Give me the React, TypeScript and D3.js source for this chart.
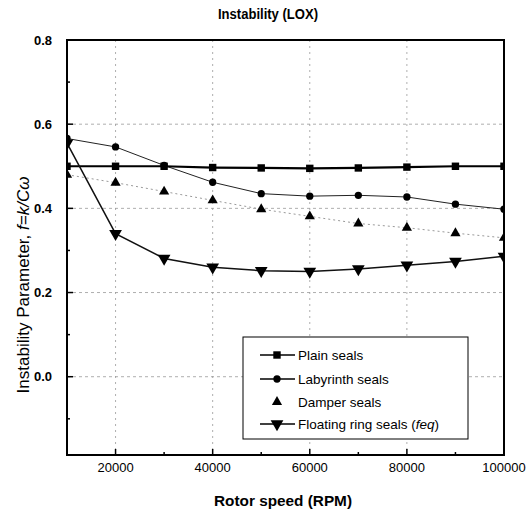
import React, { useEffect, useRef } from 'react'
import * as d3 from 'd3'

const speeds = [10000, 20000, 30000, 40000, 50000, 60000, 70000, 80000, 90000, 100000]
const plainSeals = [0.5, 0.5, 0.5, 0.497, 0.496, 0.495, 0.496, 0.498, 0.5, 0.5]
const labyrinthSeals = [0.566, 0.546, 0.502, 0.462, 0.435, 0.429, 0.431, 0.427, 0.41, 0.398]
const damperSeals = [0.48, 0.461, 0.44, 0.419, 0.398, 0.381, 0.364, 0.354, 0.341, 0.33]
const floatingSeals = [0.555, 0.34, 0.281, 0.26, 0.252, 0.25, 0.256, 0.265, 0.274, 0.286]

const xMajor = [20000, 40000, 60000, 80000, 100000]
const xMinor = [30000, 50000, 70000, 90000]
const yMajor = [0.0, 0.2, 0.4, 0.6, 0.8]
const yMinor = [-0.1, 0.1, 0.3, 0.5, 0.7]

const W = 532
const H = 518
const left = 67
const right = 504
const top = 40
const bottom = 455
const font = '"Liberation Sans", Arial, sans-serif'

const App = () => {
  const ref = useRef<SVGSVGElement>(null)

  useEffect(() => {
    document.body.style.margin = '0'
    if (!ref.current) return
    const svg = d3.select(ref.current)
    svg.selectAll('*').remove()

    const x = d3.scaleLinear().domain([10000, 100000]).range([left, right])
    const y = d3.scaleLinear().domain([-0.186, 0.8]).range([bottom, top])

    svg.append('rect').attr('width', W).attr('height', H).attr('fill', '#fff')

    svg.append('defs').append('clipPath').attr('id', 'plot')
      .append('rect').attr('x', left).attr('y', top).attr('width', right - left).attr('height', bottom - top)

    // grid
    const grid = svg.append('g').attr('stroke', '#999').attr('stroke-width', 0.8).attr('stroke-dasharray', '3,3')
    yMajor.forEach((v) => {
      grid.append('line').attr('x1', left).attr('x2', right).attr('y1', y(v)).attr('y2', y(v))
    })
    xMajor.slice(0, -1).forEach((v) => {
      grid.append('line').attr('x1', x(v)).attr('x2', x(v)).attr('y1', top).attr('y2', bottom)
        .attr('stroke-dasharray', '2,4')
    })

    // series
    const plot = svg.append('g').attr('clip-path', 'url(#plot)')
    const line = d3.line<[number, number]>().x((d) => x(d[0])).y((d) => y(d[1]))
    const pts = (vals: number[]) => speeds.map((s, i) => [s, vals[i]] as [number, number])

    const series = [
      { vals: damperSeals, stroke: '#9a9a9a', width: 1, dash: '2,3', sym: d3.symbolTriangle, size: 45, rot: 0 },
      { vals: labyrinthSeals, stroke: '#222', width: 1, dash: null, sym: d3.symbolCircle, size: 42, rot: 0 },
      { vals: plainSeals, stroke: '#000', width: 2.2, dash: null, sym: d3.symbolSquare, size: 55, rot: 0 },
      { vals: floatingSeals, stroke: '#111', width: 1.5, dash: null, sym: d3.symbolTriangle, size: 70, rot: 180 },
    ]

    series.forEach((s) => {
      plot.append('path')
        .attr('d', line(pts(s.vals)))
        .attr('fill', 'none')
        .attr('stroke', s.stroke)
        .attr('stroke-width', s.width)
        .attr('stroke-dasharray', s.dash)
      pts(s.vals).forEach((p) => {
        plot.append('path')
          .attr('d', d3.symbol().type(s.sym).size(s.size)())
          .attr('transform', `translate(${x(p[0])},${y(p[1])}) rotate(${s.rot})`)
          .attr('fill', '#000')
      })
    })

    // frame
    svg.append('rect')
      .attr('x', left).attr('y', top).attr('width', right - left).attr('height', bottom - top)
      .attr('fill', 'none').attr('stroke', '#000').attr('stroke-width', 2)

    // ticks
    const ticks = svg.append('g').attr('stroke', '#000').attr('stroke-width', 1.5)
    yMajor.forEach((v) => ticks.append('line').attr('x1', left).attr('x2', left + 6).attr('y1', y(v)).attr('y2', y(v)))
    yMinor.forEach((v) => ticks.append('line').attr('x1', left).attr('x2', left + 3).attr('y1', y(v)).attr('y2', y(v)))
    xMajor.forEach((v) => ticks.append('line').attr('x1', x(v)).attr('x2', x(v)).attr('y1', bottom).attr('y2', bottom - 6))
    xMinor.forEach((v) => ticks.append('line').attr('x1', x(v)).attr('x2', x(v)).attr('y1', bottom).attr('y2', bottom - 3))

    // tick labels
    yMajor.forEach((v) => {
      svg.append('text')
        .attr('x', left - 15).attr('y', y(v)).attr('dy', '0.35em')
        .attr('text-anchor', 'end')
        .style('font-family', font).style('font-size', '13px').style('font-weight', 'bold')
        .text(d3.format('.1f')(v))
    })
    xMajor.forEach((v) => {
      svg.append('text')
        .attr('x', x(v)).attr('y', 472)
        .attr('text-anchor', 'middle')
        .style('font-family', font).style('font-size', '13px')
        .text(String(v))
    })

    // titles
    svg.append('text')
      .attr('x', 268).attr('y', 19).attr('text-anchor', 'middle')
      .attr('textLength', 100).attr('lengthAdjust', 'spacingAndGlyphs')
      .style('font-family', font).style('font-size', '14px').style('font-weight', 'bold')
      .text('Instability (LOX)')

    svg.append('text')
      .attr('x', 283).attr('y', 506).attr('text-anchor', 'middle')
      .attr('textLength', 138).attr('lengthAdjust', 'spacingAndGlyphs')
      .style('font-family', font).style('font-size', '15px').style('font-weight', 'bold')
      .text('Rotor speed (RPM)')

    const yt = svg.append('text')
      .attr('transform', 'translate(29,285) rotate(-90)')
      .attr('text-anchor', 'middle')
      .style('font-family', font).style('font-size', '17px')
    yt.append('tspan').text('Instability Parameter, ')
    yt.append('tspan').style('font-style', 'italic').text('f=k/Cω')

    // legend
    const lg = svg.append('g')
    lg.append('rect').attr('x', 243).attr('y', 337).attr('width', 225).attr('height', 102)
      .attr('fill', '#fff').attr('stroke', '#000').attr('stroke-width', 1)
    const names = ['Plain seals', 'Labyrinth seals', 'Damper seals', 'Floating ring seals ']
    const ly = [355, 379, 402, 424]
    const legendSeries = [series[2], series[1], series[0], series[3]]
    legendSeries.forEach((s, i) => {
      if (s !== series[0]) {
        lg.append('line').attr('x1', 260).attr('x2', 295).attr('y1', ly[i]).attr('y2', ly[i])
          .attr('stroke', '#000').attr('stroke-width', 1.3)
      }
      lg.append('path')
        .attr('d', d3.symbol().type(s.sym).size(s.size)())
        .attr('transform', `translate(277,${ly[i]}) rotate(${s.rot})`)
        .attr('fill', '#000')
      const t = lg.append('text')
        .attr('x', 298).attr('y', ly[i]).attr('dy', '0.35em')
        .style('font-family', font).style('font-size', '13.5px')
      t.append('tspan').text(names[i])
      if (i === 3) {
        t.append('tspan').text('(')
        t.append('tspan').style('font-style', 'italic').text('feq')
        t.append('tspan').text(')')
      }
    })
  }, [])

  return <svg ref={ref} width={W} height={H} style={{ display: 'block' }} />
}

export default App
